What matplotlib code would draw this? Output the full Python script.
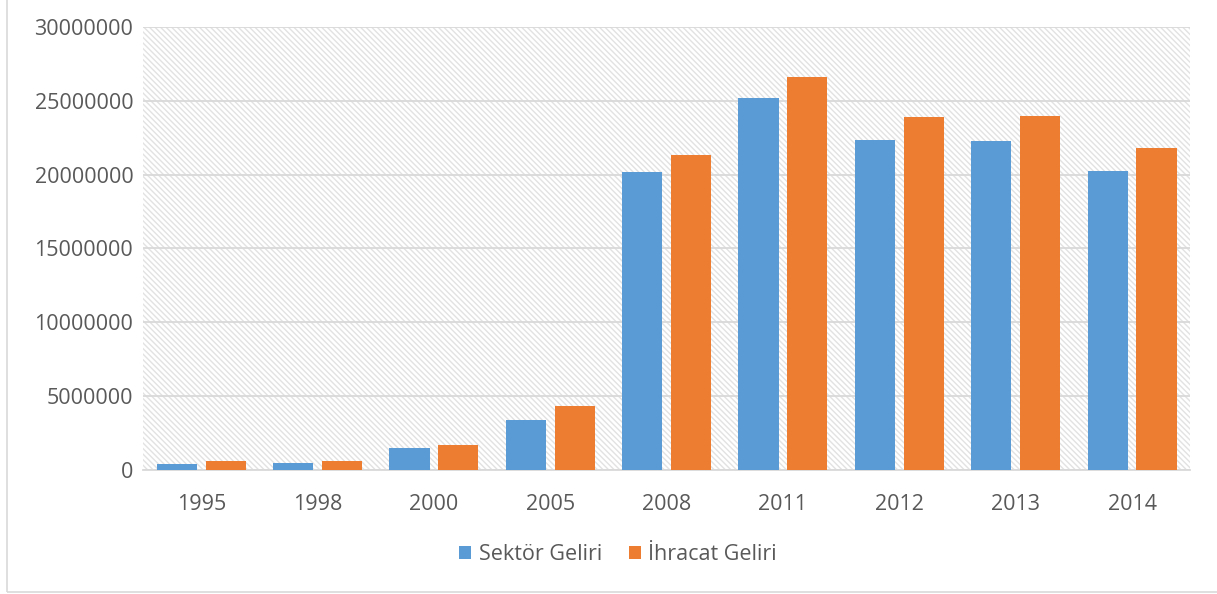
import matplotlib
matplotlib.use('Agg')
import matplotlib.pyplot as plt
from matplotlib.patches import Rectangle
import numpy as np

years = ['1995', '1998', '2000', '2005', '2008', '2011', '2012', '2013', '2014']
sektor_geliri = [410000, 440000, 1490000, 3390000, 20180000, 25190000, 22340000, 22280000, 20220000]
ihracat_geliri = [610000, 580000, 1690000, 4330000, 21330000, 26600000, 23930000, 23990000, 21830000]

blue = '#5b9bd5'
orange = '#ed7d31'
text_color = '#595959'
grid_color = '#d9d9d9'

plt.rcParams['font.family'] = ['Open Sans', 'DejaVu Sans']
plt.rcParams['hatch.linewidth'] = 1.0
plt.rcParams['hatch.color'] = '#e2e2e2'

fig = plt.figure(figsize=(12.17, 5.94), dpi=100)
ax = fig.add_axes([0.1175, 0.2088, 0.8605, 0.7457])

# outer chart border (left and bottom visible)
fig.patches.append(Rectangle((7 / 1217, 1 - 592 / 594), 2, 2, transform=fig.transFigure,
                             fill=False, edgecolor='#d9d9d9', linewidth=1.2))

# hatched plot area background
ax.add_patch(Rectangle((0, 0), 1, 1, transform=ax.transAxes, facecolor='white',
                       edgecolor='#e2e2e2', hatch='\\' * 6, linewidth=0, zorder=0))

x = np.arange(len(years))
w = 0.345
off = 0.21
ax.bar(x - off, sektor_geliri, w, color=blue, label='Sektör Geliri', zorder=3)
ax.bar(x + off, ihracat_geliri, w, color=orange, label='İhracat Geliri', zorder=3)

ax.set_xlim(-0.5, len(years) - 0.5)
ax.set_ylim(0, 30000000)
ax.set_yticks(np.arange(0, 30000001, 5000000))
ax.set_yticklabels([str(v) for v in range(0, 30000001, 5000000)])
ax.set_xticks(x)
ax.set_xticklabels(years)
ax.yaxis.grid(True, color=grid_color, linewidth=1.3, zorder=1)
ax.set_axisbelow(True)
for s in ['left', 'right', 'top']:
    ax.spines[s].set_visible(False)
ax.spines['bottom'].set_color(grid_color)
ax.spines['bottom'].set_linewidth(1.3)
ax.tick_params(axis='both', length=0, labelsize=15.5, colors=text_color)
ax.tick_params(axis='x', pad=17)
ax.tick_params(axis='y', pad=7)

leg = fig.legend(loc='center', bbox_to_anchor=(0.508, 1 - 555 / 594), ncol=2, frameon=False,
                 fontsize=15.5, handlelength=0.55, handleheight=0.55, handletextpad=0.35,
                 columnspacing=1.25)
for t in leg.get_texts():
    t.set_color(text_color)

fig.savefig('out.png', dpi=100, facecolor='white')
